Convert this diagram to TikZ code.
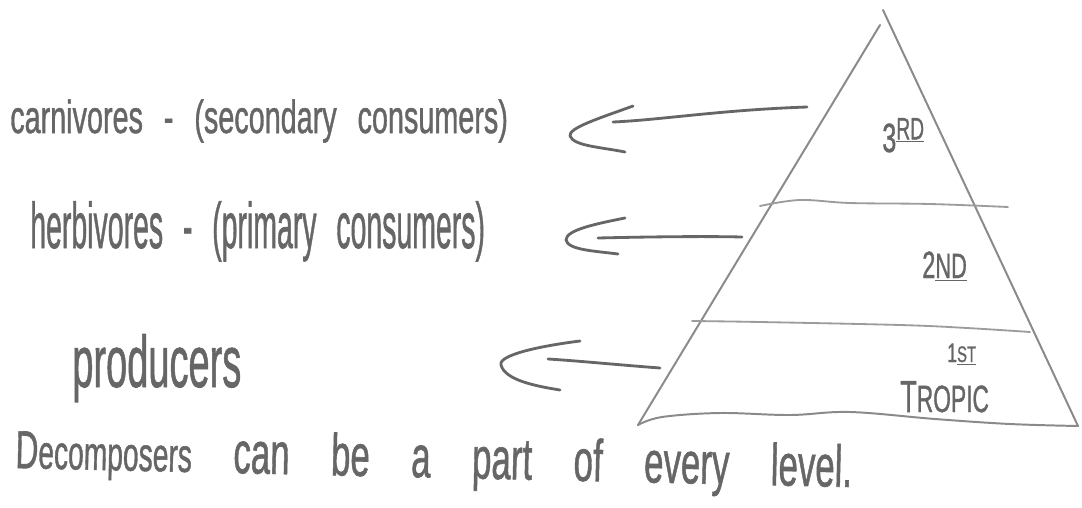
\documentclass[tikz,border=0pt]{standalone}
\usepackage{fontspec}
\setmainfont{Liberation Sans}
\newfontfamily\handfont{Liberation Sans}[FakeBold=1.2]
\usepackage{graphicx}
\definecolor{ink}{HTML}{666666}
\definecolor{pencil}{HTML}{8A8A8A}
% narrow handwritten-looking text: font size, horizontal squeeze, word gap
\newcommand\hand[4]{\scalebox{#2}[1]{\fontsize{#1}{#1}\selectfont\spaceskip=#3\relax #4}}
\newcommand\fsz[1]{\fontsize{#1}{#1}\selectfont}

\begin{document}
\begin{tikzpicture}[x=0.025cm,y=-0.025cm,
  words/.style={text=ink, inner sep=0pt, anchor=base west, font=\handfont},
  pen/.style={draw=ink, line width=2pt, line cap=round, line join=round},
  side/.style={draw=pencil, line width=1.4pt, line cap=round, line join=round},
  tier/.style={draw=pencil!85, line width=1.3pt, line cap=round},
]
\useasboundingbox[fill=white] (0,0) rectangle (1082,507);

% ---- labels on the left ----
\node[words] (carn) at (10,133)
  {\hand{33}{0.62}{24pt}{carnivores - (secondary consumers)}};
\node[words] (herb) at (30,248)
  {\hand{46}{0.44}{32pt}{herbivores - (primary consumers)}};
\node[words] (prod) at (72,387)
  {\hand{52}{0.52}{20pt}{producers}};
\node[words, rotate=-1.3] (decomp) at (15,468)
  {\hand{42}{0.59}{50pt}{{\fsz{38}D\fsz{34}ecomposers} can be a part of every level.}};

% ---- pyramid ----
\coordinate (apexL) at (880,25);
\coordinate (apexR) at (883,10);
\coordinate (baseL) at (638,425);
\coordinate (baseR) at (1078,426);
\draw[side] (apexL) -- (baseL);
\draw[side] (apexR) -- (baseR);
\draw[side] plot[smooth, tension=0.6] coordinates
  {(baseL) (662,417) (720,413) (790,415) (850,412) (935,419) (1010,424) (baseR)};
\draw[tier] plot[smooth, tension=0.6] coordinates
  {(760,206) (800,200) (850,203) (930,204) (1008,207)};
\draw[tier] plot[smooth, tension=0.6] coordinates
  {(692,321) (760,322) (900,325) (967,328) (1030,332)};

% ---- tier labels ----
\node[words] (t3) at (882,152)
  {\scalebox{0.62}[1]{\fsz{29}3\raisebox{9pt}{\underline{\fsz{22}RD}}}};
\node[words] (t2) at (922,278)
  {\scalebox{0.62}[1]{\fsz{27}2\underline{\fsz{25}ND}}};
\node[words] (t1) at (947,362)
  {\scalebox{0.66}[1]{\fsz{19}1\underline{\fsz{16}ST}}};
\node[words] (trop) at (900,412)
  {\scalebox{0.6}[1]{\fsz{32}T\fsz{27}ROPIC}};

% ---- arrows from each tier to its label ----
\coordinate (a3from) at (807,107);
\coordinate (a3to)   at (613,122);
\coordinate (a3up)   at (633,106);
\coordinate (a3tip)  at (570,136);
\coordinate (a3low)  at (625,152);
\draw[pen] (a3from) .. controls (720,110) and (660,120) .. (a3to);
\draw[pen] (a3up) .. controls (600,118) and (568,128) .. (a3tip)
                 .. controls (574,146) and (600,147) .. (a3low);

\coordinate (a2from) at (742,237);
\coordinate (a2to)   at (598,238);
\coordinate (a2up)   at (625,218);
\coordinate (a2tip)  at (566,240);
\coordinate (a2low)  at (618,254);
\draw[pen] (a2from) .. controls (700,236) and (640,237) .. (a2to);
\draw[pen] (a2up) .. controls (595,224) and (566,230) .. (a2tip)
                 .. controls (568,250) and (595,251) .. (a2low);

\coordinate (a1from) at (660,368);
\coordinate (a1to)   at (548,359);
\coordinate (a1up)   at (580,341);
\coordinate (a1tip)  at (501,365);
\coordinate (a1low)  at (560,390);
\draw[pen] (a1from) .. controls (620,365) and (580,361) .. (a1to);
\draw[pen] (a1up) .. controls (540,346) and (498,355) .. (a1tip)
                 .. controls (505,380) and (535,386) .. (a1low);
\end{tikzpicture}
\end{document}
